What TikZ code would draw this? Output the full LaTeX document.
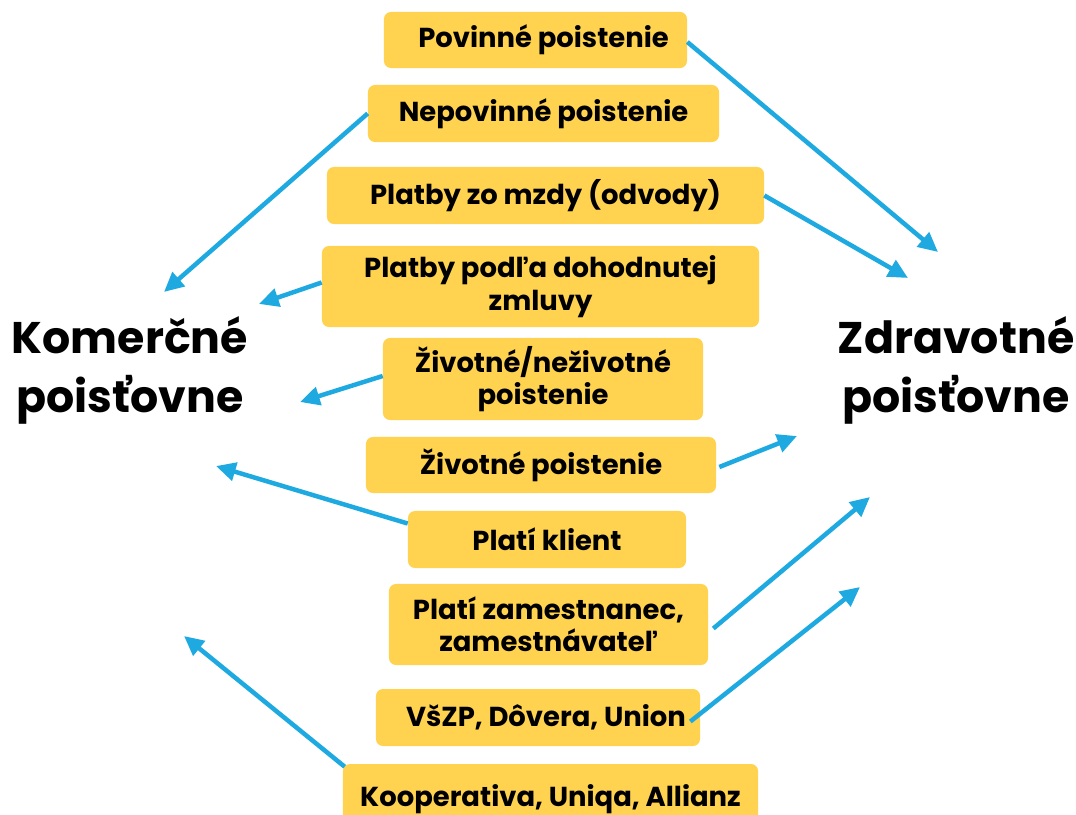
\documentclass[tikz,border=0pt]{standalone}
\usepackage{fontspec}
\setmainfont{Poppins}
\usepackage{xcolor}
\usepackage{tikz}
\usetikzlibrary{arrows.meta}

\definecolor{boxyellow}{HTML}{FFD34F}
\definecolor{arrowblue}{HTML}{1EAAE0}

\begin{document}
\begin{tikzpicture}[
    x=0.025cm, y=-0.025cm,
    item/.style={rectangle, fill=boxyellow, rounded corners=5pt, inner sep=0pt, align=center,
                 font=\fontsize{19.5pt}{23pt}\selectfont\bfseries},
    big/.style={align=center, font=\fontsize{31.5pt}{42pt}\selectfont\bfseries},
    link/.style={-{Triangle[length=14pt,width=13pt]}, line width=3.2pt, arrowblue}
]
\useasboundingbox (0,0) rectangle (1076,814);

% side labels
\node[big] (kom) at (130,370) {Komerčné\\poisťovne};
\node[big] (zdr) at (956,370) {Zdravotné\\poisťovne};

% boxes
\node[item, minimum width=7.575cm, minimum height=1.4cm] (pov) at (535.5,40) {\hspace*{0.4cm}Povinné poistenie};
\node[item, minimum width=8.775cm, minimum height=1.425cm] (nepov) at (543.5,113.5) {Nepovinné poistenie};
\node[item, minimum width=10.925cm, minimum height=1.425cm] (mzdy) at (545.5,195.5) {Platby zo mzdy (odvody)};
\node[item, minimum width=10.925cm, minimum height=2.025cm] (dohod) at (540.5,286.5) {Platby podľa dohodnutej\\zmluvy};
\node[item, minimum width=8cm, minimum height=2.05cm] (zivnez) at (543,379) {Životné/neživotné\\poistenie};
\node[item, minimum width=8.75cm, minimum height=1.4cm] (ziv) at (541,465) {Životné poistenie};
\node[item, minimum width=6.95cm, minimum height=1.425cm] (klient) at (547,539.5) {Platí klient};
\node[item, minimum width=7.975cm, minimum height=2.025cm] (zamest) at (548.5,624.5) {Platí zamestnanec,\\zamestnávateľ};
\node[item, minimum width=8.1cm, minimum height=1.425cm] (vszp) at (538,717.5) {\hspace*{0.4cm}VšZP, Dôvera, Union};
\node[item, minimum width=10.375cm, minimum height=1.75cm] (koop) at (550.5,799) {Kooperativa, Uniqa, Allianz};

% arrow ends
\coordinate (e1) at (938,252);
\coordinate (e2) at (164,292);
\coordinate (e3) at (908,278);
\coordinate (e4) at (259,304);
\coordinate (e5) at (300,402);
\coordinate (e6) at (797,436);
\coordinate (e7) at (216,466);
\coordinate (e8) at (870,497);
\coordinate (e9) at (860,587);
\coordinate (e10) at (184,636);

\draw[link] (pov.east) ++(0,2) -- (e1);
\draw[link] (nepov.west) -- (e2);
\draw[link] (mzdy.east) -- (e3);
\draw[link] (dohod.west) ++(0,-4) -- (e4);
\draw[link] (zivnez.west) ++(0,-3) -- (e5);
\draw[link] (ziv.east) ++(3,2) -- (e6);
\draw[link] (klient.west) ++(0,-16) -- (e7);
\draw[link] (zamest.east) ++(5,4) -- (e8);
\draw[link] (vszp.east) ++(-10,4) -- (e9);
\draw[link] (koop.north west) ++(2,3) -- (e10);

\end{tikzpicture}
\end{document}
